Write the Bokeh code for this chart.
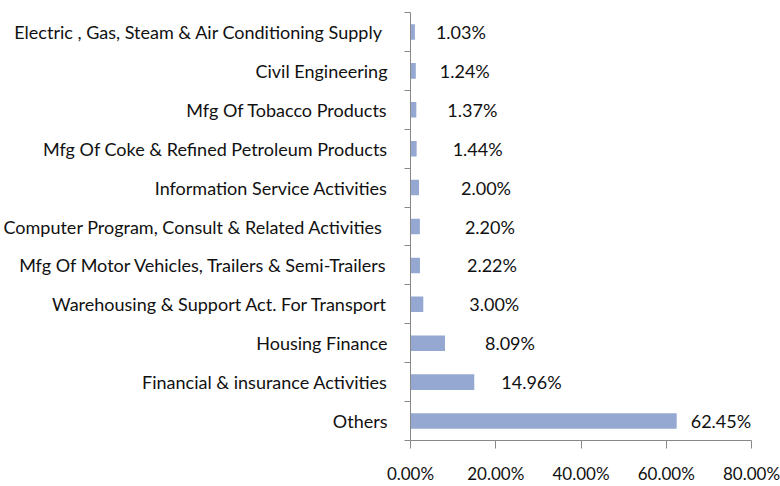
from bokeh.plotting import figure
from bokeh.models import Range1d, FixedTicker, ColumnDataSource
from bokeh.core.properties import value
from bokeh.embed import file_html
from bokeh.resources import INLINE

# Data (top to bottom as in the chart)
categories = [
    "Electric , Gas, Steam & Air Conditioning  Supply",
    "Civil Engineering",
    "Mfg Of Tobacco Products",
    "Mfg Of Coke & Refined Petroleum Products",
    "Information Service Activities",
    "Computer Program, Consult  & Related Activities",
    "Mfg Of Motor Vehicles, Trailers & Semi-Trailers",
    "Warehousing & Support Act. For Transport",
    "Housing Finance",
    "Financial & insurance Activities",
    "Others",
]
shares = [1.03, 1.24, 1.37, 1.44, 2.00, 2.20, 2.22, 3.00, 8.09, 14.96, 62.45]
share_labels = ["1.03%", "1.24%", "1.37%", "1.44%", "2.00%", "2.20%",
                "2.22%", "3.00%", "8.09%", "14.96%", "62.45%"]
x_ticks = [0, 20, 40, 60, 80]
x_tick_labels = ["0.00%", "20.00%", "40.00%", "60.00%", "80.00%"]

# label pixel offsets from bar end (style only)
label_dx = [21, 24, 31, 36, 42, 45, 47, 46, 40, 27, 14]

n = len(categories)
ypos = [n - i - 0.5 for i in range(n)]

FONT = "Lato"

p = figure(width=780, height=486, output_backend="svg", toolbar_location=None,
           x_range=Range1d(0, 80), y_range=Range1d(0, n),
           min_border_left=409, min_border_right=29,
           min_border_top=12, min_border_bottom=44)
p.outline_line_color = None
p.xgrid.visible = False
p.ygrid.visible = False

src = ColumnDataSource(dict(y=ypos, v=shares, lab=share_labels, dx=label_dx))
p.hbar(y="y", right="v", left=0, height=0.4, source=src,
       fill_color="#94A8D2", line_color=None)
p.text(x="v", y="y", text="lab", x_offset="dx", source=src,
       text_align="left", text_baseline="middle",
       text_font=value(FONT), text_font_size="18px", text_color="#111111")

# y axis
ya = p.yaxis[0]
ya.ticker = FixedTicker(ticks=ypos, minor_ticks=list(range(n + 1)))
ya.major_label_overrides = {y: c for y, c in zip(ypos, categories)}
ya.major_tick_out = 0
ya.major_tick_in = 0
ya.minor_tick_out = 6
ya.minor_tick_in = 0
ya.major_label_standoff = 17
ya.axis_line_color = "#888888"
ya.minor_tick_line_color = "#888888"
ya.major_label_text_font = FONT
ya.major_label_text_font_size = "18px"
ya.major_label_text_color = "#111111"

# x axis
xa = p.xaxis[0]
xa.ticker = FixedTicker(ticks=x_ticks, minor_ticks=[])
xa.major_label_overrides = {t: l for t, l in zip(x_ticks, x_tick_labels)}
xa.major_tick_out = 8
xa.major_tick_in = 0
xa.minor_tick_line_color = None
xa.major_label_standoff = 14
xa.axis_line_color = "#888888"
xa.major_tick_line_color = "#888888"
xa.major_label_text_font = FONT
xa.major_label_text_font_size = "17px"
xa.major_label_text_color = "#111111"

open("out.html", "w").write(file_html(p, INLINE))
